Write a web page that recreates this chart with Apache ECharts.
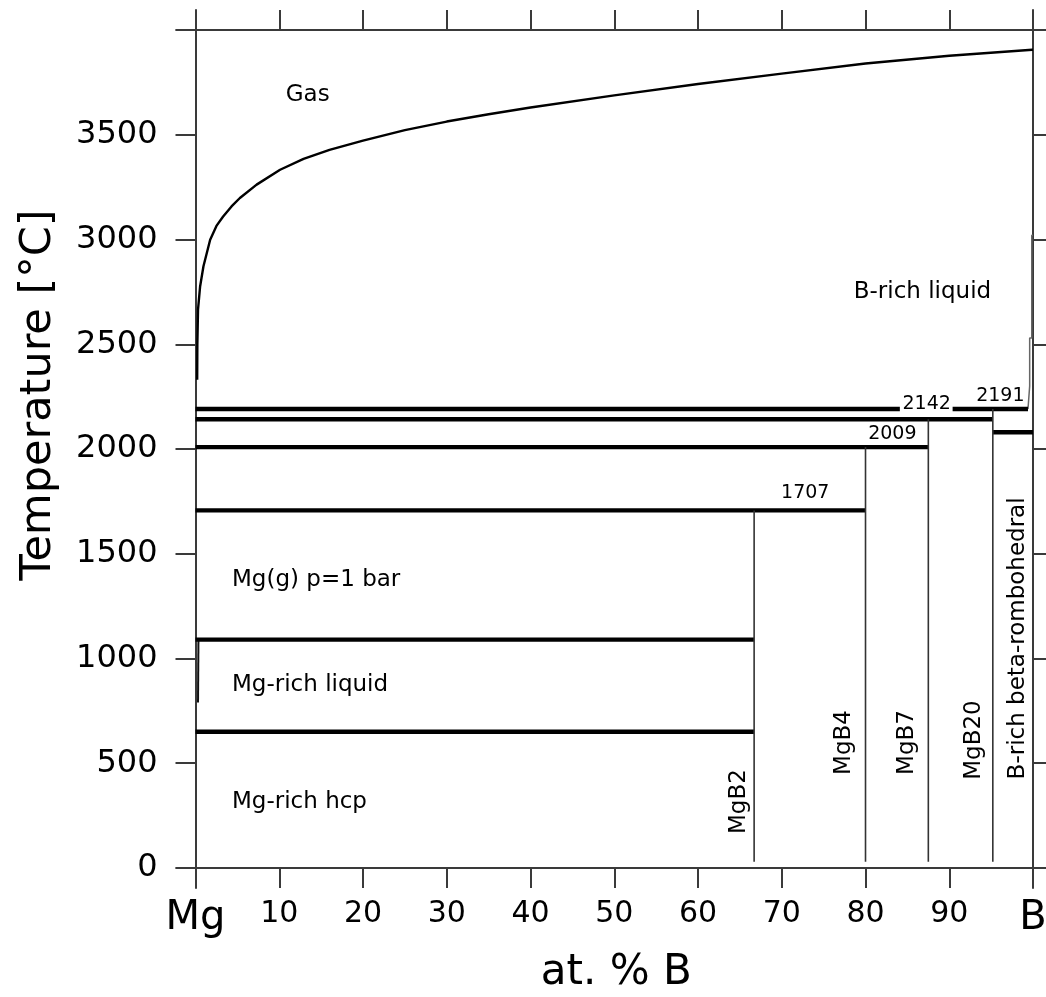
<!DOCTYPE html>
<html><head><meta charset="utf-8">
<script src="https://cdn.jsdelivr.net/npm/echarts@6/dist/echarts.min.js"></script>
<style>html,body{margin:0;padding:0;background:#fff}#c{width:1046px;height:997px}</style>
</head><body><div id="c"></div>
<script>
// ---- data ----
const xTicks = [0, 10, 20, 30, 40, 50, 60, 70, 80, 90, 100];
const xTickNames = { 0: 'Mg', 100: 'B' };
const yTicks = [0, 500, 1000, 1500, 2000, 2500, 3000, 3500, 4000];
const yLabels = [0, 500, 1000, 1500, 2000, 2500, 3000, 3500];

// gas / liquid boundary (at.% B, °C)
const gasBoundary = [
  [0.2, 2330], [0.22, 2500], [0.3, 2665], [0.55, 2776], [0.95, 2872], [1.75, 2999],
  [2.5, 3065], [3.3, 3110], [4.3, 3158], [5.3, 3198], [7.3, 3262], [10.1, 3333],
  [12.9, 3385], [16, 3428], [20, 3472], [25, 3522], [30, 3563], [35, 3598],
  [40, 3630], [50, 3688], [60, 3742], [70, 3792], [80, 3840], [90, 3877],
  [99.9, 3906], [100, 3906]
];
// B-rich liquid boundary close to pure B
const bLiquidBoundary = [
  [99.4, 2191], [99.6, 2300], [99.6, 2530], [99.85, 2530], [99.85, 3020], [100, 3020]
];
// Mg-rich liquid solubility limit
const mgLiquidBoundary = [[0.35, 1090], [0.3, 790]];

// invariant (horizontal) lines: [xStart, xEnd, T]
const invariantSegments = [
  [0, 84.1, 2191], [90.4, 99.4, 2191],
  [0, 95.2, 2142],
  [0, 87.5, 2009],
  [0, 80, 1707],
  [0, 66.7, 1090],
  [0, 66.7, 650],
  [95.2, 100, 2080]
];

// compounds (vertical lines)
const compoundX = [66.7, 80, 87.5, 95.2];
const compoundTopT = [1707, 2009, 2142, 2191];
const compoundBottomT = 30;

// text labels: [text, x, T]
const regionLabels = [
  ['Gas', 13.4, 3690],
  ['B-rich liquid', 86.8, 2751]
];
const leftLabels = [
  ['Mg(g) p=1 bar', 4.36, 1375],
  ['Mg-rich liquid', 4.36, 873],
  ['Mg-rich hcp', 4.36, 317]
];
const phaseLabels = [
  ['MgB2', 64.9, 317],
  ['MgB4', 77.4, 599],
  ['MgB7', 85.0, 599],
  ['MgB20', 92.9, 611],
  ['B-rich beta-rombohedral', 98.25, 1096]
];
const temperatureLabels = [
  ['1707', 72.8, 1790],
  ['2009', 83.2, 2071],
  ['2142', 87.3, 2215],
  ['2191', 96.1, 2255]
];

// ---- chart ----
const FONT = 'DejaVu Sans';
const AXC = '#3a3a3a';
const chart = echarts.init(document.getElementById('c'), null, { renderer: 'canvas' });

const series = [];
function lineSeries(data, width, color) {
  series.push({
    type: 'line', data: data, showSymbol: false, symbol: 'none', silent: true,
    animation: false, lineStyle: { color: color, width: width }, z: 3
  });
}
lineSeries(gasBoundary, 2.4, '#000');
lineSeries(bLiquidBoundary, 1.5, '#666');
lineSeries(mgLiquidBoundary, 2, '#111');
invariantSegments.forEach(s => lineSeries([[s[0], s[2]], [s[1], s[2]]], 4.4, '#000'));
compoundX.forEach((x, i) => lineSeries([[x, compoundBottomT], [x, compoundTopT[i]]], 1.6, '#333'));

function labelSeries(items, label) {
  series.push({
    type: 'scatter', symbolSize: 0, silent: true, animation: false, z: 5,
    itemStyle: { opacity: 1 },
    data: items.map(it => ({ value: [it[1], it[2]], name: it[0] })),
    label: Object.assign({ show: true, formatter: p => p.name, color: '#000', opacity: 1, fontFamily: FONT }, label)
  });
}
labelSeries(regionLabels, { position: 'inside', fontSize: 23 });
labelSeries(leftLabels, { position: 'right', distance: 0, fontSize: 23 });
labelSeries(phaseLabels, { position: 'inside', fontSize: 23, rotate: 90 });
labelSeries(temperatureLabels, { position: 'inside', fontSize: 19 });

const axisLine = { onZero: false, lineStyle: { color: AXC, width: 2 } };
const tickStyle = { color: AXC, width: 2 };

chart.setOption({
  animation: false,
  backgroundColor: '#fff',
  grid: { left: 176.5, right: 0, top: 10, bottom: 109, containLabel: false, outerBoundsMode: 'none' },
  xAxis: [{
    type: 'value', position: 'bottom', min: -2.269, max: 101.55, offset: -20,
    axisLine: axisLine,
    axisTick: { show: true, customValues: xTicks, length: 20, lineStyle: tickStyle },
    splitLine: { show: false },
    axisLabel: {
      customValues: xTicks, margin: 31, fontSize: 30, color: '#000', fontFamily: FONT,
      formatter: v => (xTickNames[v] !== undefined ? '{big|' + xTickNames[v] + '}' : String(v)),
      rich: { big: { fontSize: 40, fontFamily: FONT, color: '#000' } }
    },
    name: 'at. % B', nameLocation: 'middle', nameGap: 84,
    nameTextStyle: { fontSize: 42, fontFamily: FONT, color: '#000', padding: [0, 0, 0, 10] }
  }, {
    type: 'value', position: 'top', min: -2.269, max: 101.55, offset: -20,
    axisLine: axisLine,
    axisTick: { show: true, customValues: xTicks, length: 20, lineStyle: tickStyle },
    splitLine: { show: false }, axisLabel: { show: false }
  }],
  yAxis: [{
    type: 'value', position: 'left', min: -95.5, max: 4095.5, offset: -19,
    axisLine: axisLine,
    axisTick: { show: true, customValues: yTicks, length: 20, lineStyle: tickStyle },
    splitLine: { show: false },
    axisLabel: {
      customValues: yLabels, margin: 38, fontSize: 32, color: '#000', fontFamily: FONT,
      formatter: v => String(v)
    },
    name: 'Temperature [°C]', nameLocation: 'middle', nameGap: 135, nameRotate: 90,
    nameTextStyle: { fontSize: 43, fontFamily: FONT, color: '#000', padding: [0, 0, 0, 108] }
  }, {
    type: 'value', position: 'right', min: -95.5, max: 4095.5, offset: -13,
    axisLine: axisLine,
    axisTick: { show: true, customValues: yTicks, length: 20, lineStyle: tickStyle },
    splitLine: { show: false }, axisLabel: { show: false }
  }],
  series: series
});
</script></body></html>
